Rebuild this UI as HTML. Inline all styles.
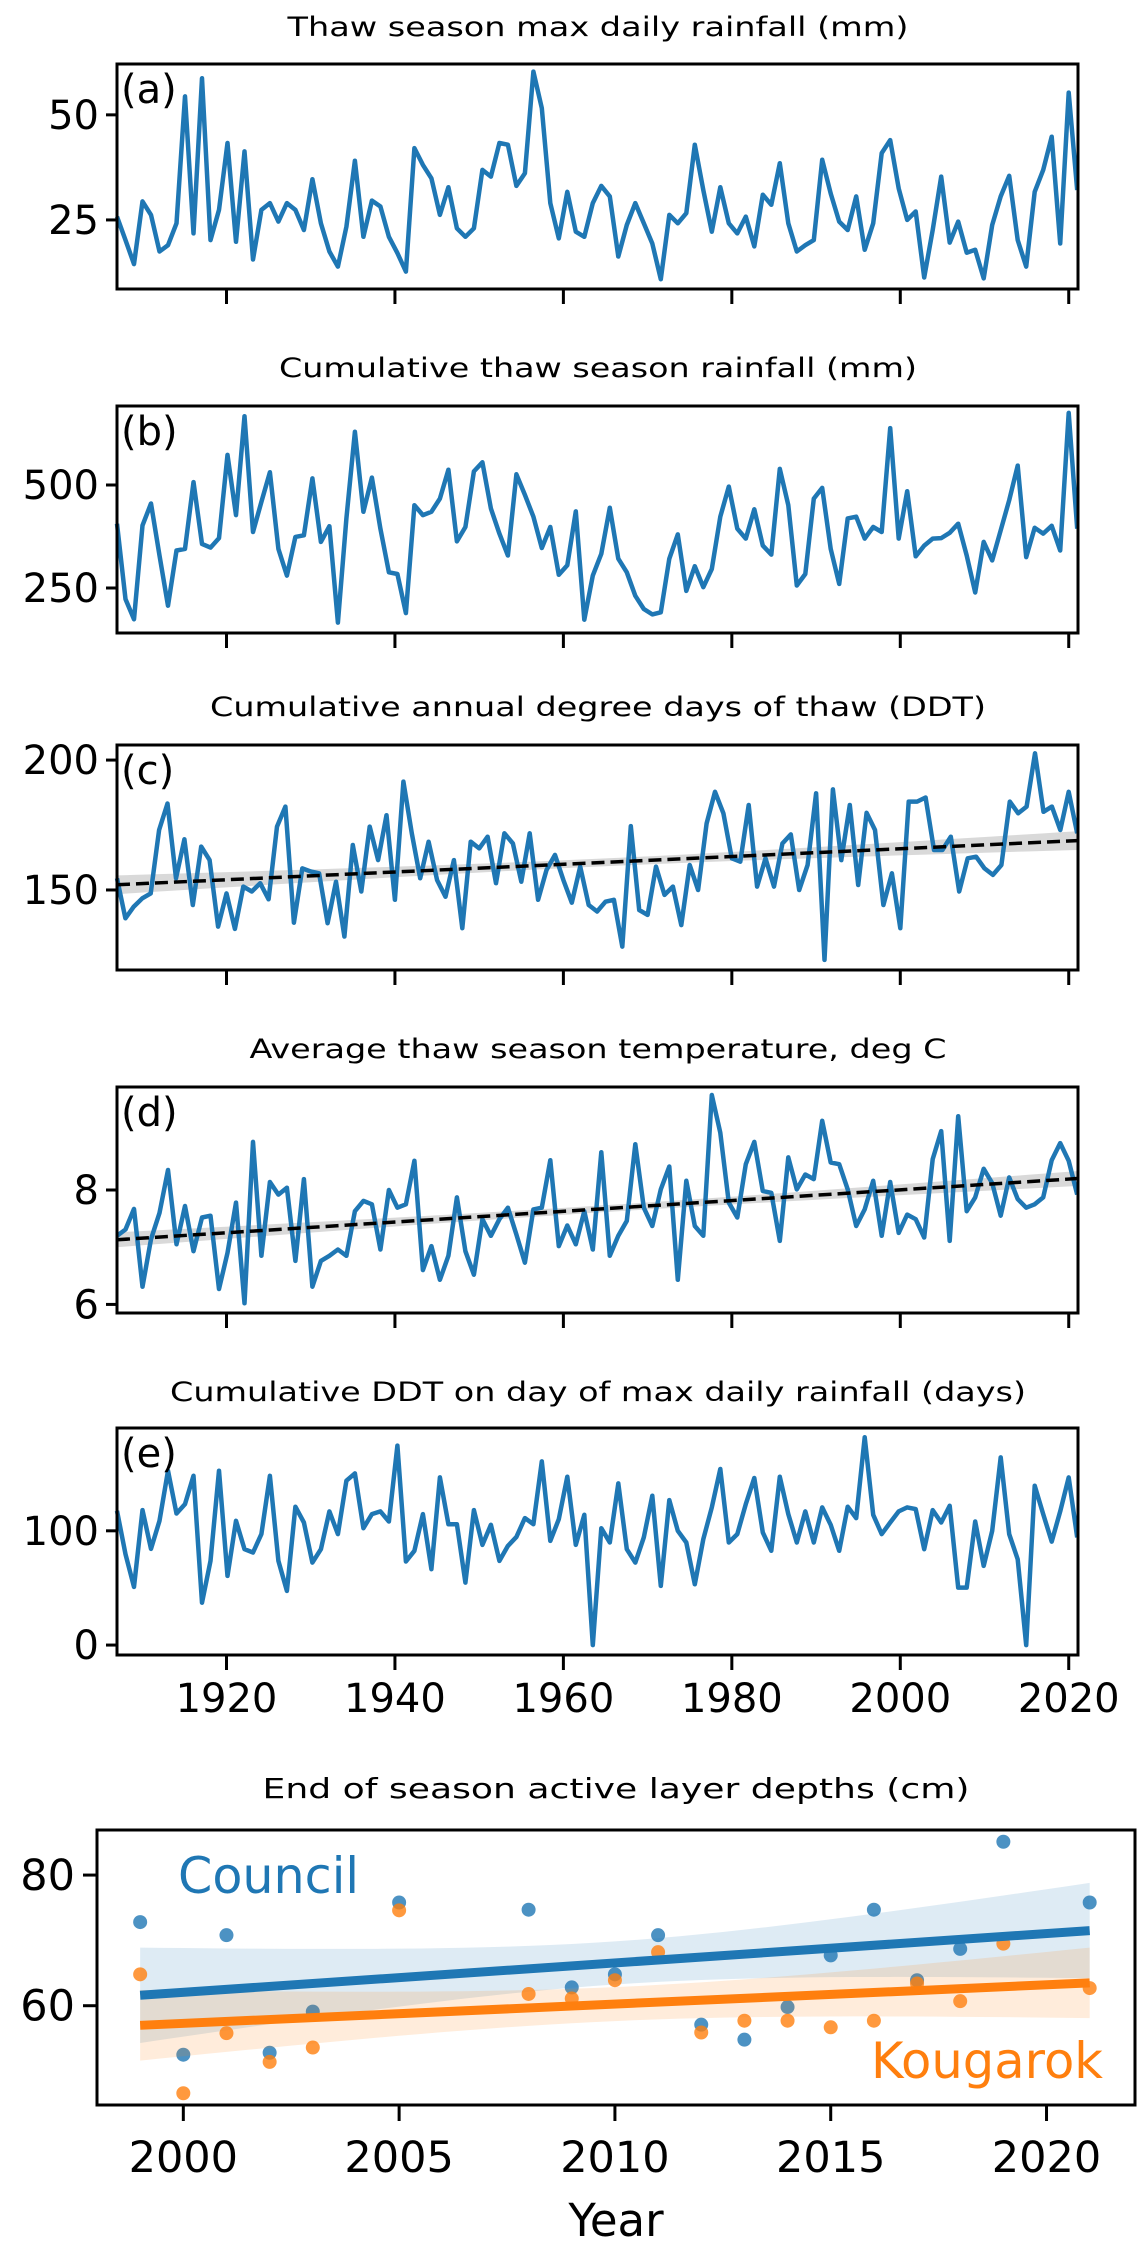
<!DOCTYPE html>
<html><head><meta charset="utf-8"><style>
html,body{margin:0;padding:0;background:#fff}
svg{display:block;font-family:"DejaVu Sans","Liberation Sans",sans-serif}
</style></head><body>
<svg id="fig" width="1144" height="2246" viewBox="0 0 1144 2246" xmlns="http://www.w3.org/2000/svg"></svg>
<script>
const seriesA=[25.8,20.2,14.5,29.4,26.2,17.5,19.0,24.2,54.4,21.8,58.7,20.2,27.4,43.3,19.8,41.3,15.6,27.4,29.0,24.6,29.0,27.4,22.6,34.7,24.2,17.5,13.9,23.4,39.1,21.0,29.6,28.2,21.0,17.1,12.7,42.1,38.1,34.9,26.2,32.8,23.0,21.0,23.0,36.9,35.3,43.3,42.9,33.1,36.1,60.3,51.6,29.0,20.6,31.7,22.2,21.0,29.0,33.1,30.6,16.3,23.8,29.0,24.2,19.4,10.9,26.2,24.2,26.6,42.9,32.1,22.2,32.8,24.2,21.8,25.8,18.7,31.0,28.6,38.5,24.2,17.5,19.0,20.2,39.3,31.3,24.6,22.6,30.6,17.9,24.2,40.9,44.0,32.5,25.0,27.0,11.3,22.6,35.3,19.6,24.6,17.2,17.9,11.1,23.8,30.6,35.5,20.2,13.9,31.7,36.9,44.8,19.4,55.3,32.1];
const seriesB=[406,223,174,402,455,329,207,341,345,507,357,348,371,573,427,667,386,459,531,345,280,374,378,516,362,400,166,419,629,435,518,394,288,284,189,451,427,435,467,537,363,398,533,555,443,382,329,526,476,423,347,398,282,305,436,173,280,333,445,321,288,231,199,186,191,321,380,243,303,252,296,423,496,394,370,441,353,331,539,451,256,284,467,493,345,260,419,423,370,398,386,638,370,485,327,353,370,371,384,406,329,239,362,317,390,463,547,325,396,382,401,341,675,394];
const seriesC=[154.5,139.1,143.6,146.8,148.7,173.1,183.3,154.5,169.5,144.2,166.7,161.5,135.9,148.7,135.0,151.3,149.4,152.6,146.4,174.4,182.1,137.4,158.3,157.1,156.4,137.2,153.2,132.1,167.3,149.4,174.4,161.5,178.8,146.2,191.7,171.8,154.5,168.6,153.8,147.4,161.5,135.3,168.6,166.0,170.5,152.6,171.8,167.9,153.2,171.8,146.2,157.7,163.5,153.8,145.1,159.0,144.2,141.7,145.5,146.2,128.2,174.6,142.3,140.4,159.0,148.1,151.3,136.5,159.6,150.0,175.6,187.8,179.5,162.2,160.9,182.7,151.3,162.2,151.3,167.9,171.4,150.0,159.6,187.2,123.1,188.7,161.5,182.7,151.9,179.7,173.1,144.2,156.4,135.3,184.0,184.0,185.6,165.4,165.4,170.5,149.4,162.2,162.8,158.3,155.8,159.6,184.0,179.5,182.1,202.6,180.1,182.1,173.1,187.8,171.8];
const seriesD=[7.20,7.31,7.67,6.31,7.14,7.60,8.35,7.05,7.72,6.93,7.52,7.55,6.27,6.90,7.78,6.02,8.84,6.85,8.14,7.92,8.04,6.76,8.19,6.31,6.76,6.85,6.96,6.85,7.63,7.81,7.75,6.96,8.00,7.69,7.75,8.51,6.60,7.02,6.43,6.85,7.87,6.93,6.52,7.49,7.20,7.49,7.69,7.22,6.73,7.66,7.69,8.52,7.02,7.38,7.05,7.63,6.96,8.66,6.85,7.20,7.46,8.80,7.69,7.37,8.01,8.41,6.43,8.16,7.37,7.20,9.66,9.00,7.78,7.52,8.45,8.84,7.98,7.95,7.11,8.57,8.01,8.27,8.19,9.21,8.48,8.45,8.01,7.37,7.66,8.16,7.20,8.14,7.25,7.57,7.49,7.17,8.54,9.03,7.11,9.29,7.63,7.87,8.37,8.12,7.55,8.22,7.84,7.69,7.75,7.87,8.52,8.82,8.51,7.92];
const seriesE=[117.5,79.5,50.9,118.1,84.2,108.8,152.6,115.2,123.4,148.2,37.1,73.7,152.6,60.5,108.8,83.9,81.0,97.1,148.2,73.7,47.4,121.1,107.3,72.2,83.9,117.0,97.1,143.9,150.3,102.3,114.6,117.0,108.2,174.6,73.1,82.5,114.6,66.4,146.8,105.8,105.8,54.7,118.1,87.7,105.3,73.7,86.8,94.7,111.1,105.8,160.8,91.2,110.2,147.4,87.7,114.0,0,102.3,89.8,141.5,83.9,72.2,94.2,130.7,51.8,126.9,100,89.8,53.2,92.7,120.5,154.1,89.8,97.1,123.4,146.2,98.5,82.5,147.4,114.6,89.8,117.0,89.8,120.5,105.3,82.5,121.1,111.1,181.9,114.0,97.1,107.3,117.0,120.5,119.0,83.9,118.1,107.3,121.9,50.3,50.3,108.2,69.3,100,164.3,97.1,75.1,0,139.5,114.6,90.6,117.0,146.8,94.2];
const trendC=[152,169];
const trendD=[7.13,8.2];
const yearTicks=[1920,1940,1960,1980,2000,2020];
const ticksA=[25,50], ticksB=[250,500], ticksC=[150,200], ticksD=[6,8], ticksE=[0,100];
const alYears=[1999,2000,2001,2002,2003,2005,2008,2009,2010,2011,2012,2013,2014,2015,2016,2017,2018,2019,2021];
const council=[72.8,52.5,70.8,52.8,59.1,75.8,74.7,62.8,64.8,70.8,57.1,54.8,59.8,67.7,74.7,63.9,68.7,85.1,75.8];
const kougarok=[64.8,46.6,55.8,51.4,53.6,74.6,61.8,61.1,63.9,68.2,55.9,57.7,57.7,56.7,57.7,63.4,60.7,69.5,62.7];
const councilFit=[61.6,71.5];
const kougarokFit=[57.0,63.5];
const ticksFX=[2000,2005,2010,2015,2020], ticksFY=[60,80];

const NS="http://www.w3.org/2000/svg";
const svg=document.getElementById('fig');
function mk(tag,attrs,parent){const e=document.createElementNS(NS,tag);for(const k in attrs)e.setAttribute(k,attrs[k]);(parent||svg).appendChild(e);return e;}
function txt(s,attrs,parent){const e=mk('text',attrs,parent);e.textContent=s;return e;}

const BLUE="#1f77b4", ORANGE="#ff7f0e";
const panels=[
 {id:'a',title:'Thaw season max daily rainfall (mm)',tx:598,ty:27,tw:621,top:64,bot:289,ymin:8.57,ymax:62.1,data:seriesA,ticks:ticksA},
 {id:'b',title:'Cumulative thaw season rainfall (mm)',tx:598,ty:368,tw:638,top:406,bot:633,ymin:140.8,ymax:691.7,data:seriesB,ticks:ticksB},
 {id:'c',title:'Cumulative annual degree days of thaw (DDT)',tx:598,ty:707,tw:776,top:745,bot:970,ymin:119.2,ymax:205.8,data:seriesC,ticks:ticksC,trend:trendC,band:[3.6,1.5]},
 {id:'d',title:'Average thaw season temperature, deg C',tx:598,ty:1049,tw:697,top:1087,bot:1313,ymin:5.85,ymax:9.80,data:seriesD,ticks:ticksD,trend:trendD,band:[0.13,0.06]},
 {id:'e',title:'Cumulative DDT on day of max daily rainfall (days)',tx:598,ty:1392,tw:856,top:1428,bot:1655,ymin:-8.7,ymax:190,data:seriesE,ticks:ticksE,xlabels:true}
];
const L=117,R=1078,X0=1907,X1=2021.1;
const xs=v=>L+(v-X0)/(X1-X0)*(R-L);
panels.forEach(p=>{
  const g=mk('g',{});
  
  
  const ys=v=>p.bot-(v-p.ymin)/(p.ymax-p.ymin)*(p.bot-p.top);
  const t=txt(p.title,{x:p.tx,y:p.ty+9,'text-anchor':'middle','font-size':27,textLength:p.tw,lengthAdjust:'spacingAndGlyphs',fill:'#000'},g);
  
  
  const n=p.data.length;
  const xi=i=>xs(X0+i*(2021-X0)/(n-1));
  if(p.trend){
    const xm=(X0+2021)/2;
    const hw=x=>{const f=(x-xm)/(2021-xm);return Math.sqrt(p.band[1]**2+(p.band[0]**2-p.band[1]**2)*f*f);};
    const tv=x=>p.trend[0]+(p.trend[1]-p.trend[0])*(x-X0)/(2021-X0);
    let up=[],dn=[];
    for(let x=X0;x<=2021;x+=2){up.push(xs(x)+','+ys(tv(x)+hw(x)));dn.unshift(xs(x)+','+ys(tv(x)-hw(x)));}
    const b=mk('polygon',{points:up.concat(dn).join(' '),fill:'#000','fill-opacity':0.15},g);
    
    
  }
  let pts=p.data.map((v,i)=>xi(i).toFixed(1)+','+ys(v).toFixed(1)).join(' ');
  const pl=mk('polyline',{points:pts,fill:'none',stroke:BLUE,'stroke-width':4.5,'stroke-linejoin':'round'},g);
  
  
  if(p.trend){
    const tl=mk('line',{x1:xs(X0),y1:ys(p.trend[0]),x2:xs(2021),y2:ys(p.trend[1]),stroke:'#000','stroke-width':3.5,'stroke-dasharray':'13,6'},g);
    
    
  }
  const fr=mk('rect',{x:L,y:p.top,width:R-L,height:p.bot-p.top,fill:'none',stroke:'#000','stroke-width':3},g);
  
  
  const lab=txt('('+p.id+')',{x:121,y:p.top+39,'font-size':40,fill:'#000'},g);
  
  
  p.ticks.forEach(v=>{
    const y=ys(v);
    mk('line',{x1:L-11,y1:y,x2:L,y2:y,stroke:'#000','stroke-width':3},g);
    const tt=txt(String(v),{x:L-18,y:y+14,'text-anchor':'end','font-size':40,fill:'#000'},g);
    
    
  });
  yearTicks.forEach(v=>{
    const x=xs(v);
    mk('line',{x1:x,y1:p.bot,x2:x,y2:p.bot+15,stroke:'#000','stroke-width':3},g);
    if(p.xlabels){
      const tt=txt(String(v),{x:x,y:p.bot+57,'text-anchor':'middle','font-size':40,fill:'#000'},g);
      
      
    }
  });
});

// Panel f
(function(){
  const g=mk('g',{});
  
  
  const FL=97,FR=1135,FT=1830,FB=2105,XA=1998.0,XB=2022.05,YA=44.8,YB=86.9;
  const fx=v=>FL+(v-XA)/(XB-XA)*(FR-FL);
  const fy=v=>FB-(v-YA)/(YB-YA)*(FB-FT);
  const t=txt('End of season active layer depths (cm)',{x:616,y:1798,'text-anchor':'middle','font-size':28,textLength:707,lengthAdjust:'spacingAndGlyphs',fill:'#000'},g);
  
  
  function fit(vals,fitv,col,bandMid,bandEnd,name){
    const x0=1999,x1=2021,xm=2010;
    const tv=x=>fitv[0]+(fitv[1]-fitv[0])*(x-x0)/(x1-x0);
    const hw=x=>{const f=(x-xm)/11;return Math.sqrt(bandMid**2+(bandEnd**2-bandMid**2)*f*f);};
    let up=[],dn=[];
    for(let x=x0;x<=x1+0.001;x+=0.5){up.push(fx(x)+','+fy(tv(x)+hw(x)));dn.unshift(fx(x)+','+fy(tv(x)-hw(x)));}
    const b=mk('polygon',{points:up.concat(dn).join(' '),fill:col,'fill-opacity':0.15},g);
    
    
    alYears.forEach((yr,i)=>{
      const c=mk('circle',{cx:fx(yr),cy:fy(vals[i]),r:7,fill:col,'fill-opacity':0.8},g);
      
      
    });
    return ()=>{
      const l=mk('line',{x1:fx(x0),y1:fy(fitv[0]),x2:fx(x1),y2:fy(fitv[1]),stroke:col,'stroke-width':9},g);
      
      
    };
  }
  const lc=fit(council,councilFit,BLUE,3.3,7.3,'council');
  const lk=fit(kougarok,kougarokFit,ORANGE,2.6,5.4,'kougarok');
  lc();lk();
  const c1=txt('Council',{x:178,y:1893,'font-size':50,fill:BLUE,textLength:181,lengthAdjust:'spacingAndGlyphs'},g);
  
  
  const c2=txt('Kougarok',{x:871,y:2078,'font-size':50,fill:ORANGE,textLength:232,lengthAdjust:'spacingAndGlyphs'},g);
  
  
  const fr=mk('rect',{x:FL,y:FT,width:FR-FL,height:FB-FT,fill:'none',stroke:'#000','stroke-width':3},g);
  
  
  ticksFY.forEach(v=>{
    const y=fy(v);
    mk('line',{x1:FL-14,y1:y,x2:FL,y2:y,stroke:'#000','stroke-width':3},g);
    const tt=txt(String(v),{x:FL-22,y:y+15,'text-anchor':'end','font-size':43,fill:'#000'},g);
    
    
  });
  ticksFX.forEach(v=>{
    const x=fx(v);
    mk('line',{x1:x,y1:FB,x2:x,y2:FB+16,stroke:'#000','stroke-width':3},g);
    const tt=txt(String(v),{x:x,y:2172,'text-anchor':'middle','font-size':43,fill:'#000'},g);
    
    
  });
  const xl=txt('Year',{x:616,y:2236,'text-anchor':'middle','font-size':45,fill:'#000'},g);
  
  
})();
</script>
</body></html>
